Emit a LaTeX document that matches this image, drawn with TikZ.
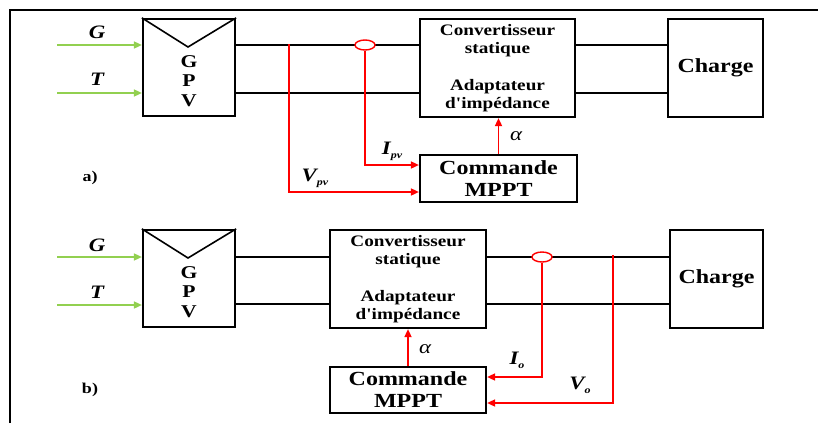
\documentclass[tikz,border=0pt]{standalone}
\usepackage{fontspec}
\setmainfont{Liberation Serif}
\newfontfamily\wf[FakeStretch=1.2]{Liberation Serif}
\usetikzlibrary{arrows.meta,shapes.geometric}
\definecolor{pvgreen}{RGB}{146,208,80}
\definecolor{sred}{RGB}{255,0,0}
\tikzset{
  blk/.style={draw, line width=2.2pt, inner sep=0pt, fill=white, align=center},
  wire/.style={line width=1.2pt},
  sig/.style={draw=sred, line width=1.6pt},
  sigarr/.style={sig, -{Triangle[length=8pt,width=7pt]}},
  gin/.style={draw=pvgreen, line width=1.6pt, -{Triangle[length=8pt,width=7pt]}},
  sensor/.style={ellipse, draw=sred, fill=white, line width=1.4pt, minimum width=20pt, minimum height=10pt, inner sep=0pt},
  gpvtxt/.style={font=\wf\bfseries\fontsize{18}{19.5}\selectfont, align=center},
  convtxt/.style={font=\wf\bfseries\fontsize{16}{17.5}\selectfont},
  bigtxt/.style={font=\wf\bfseries\fontsize{20}{22}\selectfont},
  lbl/.style={font=\wf\bfseries\itshape\fontsize{19}{19}\selectfont, inner sep=0pt},
  alph/.style={font=\wf\itshape\fontsize{19}{19}\selectfont, inner sep=0pt},
  parttxt/.style={font=\wf\bfseries\fontsize{15}{15}\selectfont, inner sep=0pt},
}
\newcommand{\sublbl}[2]{#1\raisebox{-4pt}{\fontsize{10}{10}\selectfont #2}}
\begin{document}
\begin{tikzpicture}[x=1pt,y=-1pt]
\useasboundingbox (0,0) rectangle (818,423);
% frame
\draw[line width=2pt] (10,423) -- (10,10) -- (818,10);

% ================= a) =================
\coordinate (rA1) at (0,45);
\coordinate (rA2) at (0,93);
\node[blk, minimum width=92pt, minimum height=97pt] (gpvA) at (189,67.5) {};
\coordinate (vtxA) at (188,47);
\draw[line width=1.6pt] (gpvA.north west) -- (vtxA) -- (gpvA.north east);
\node[gpvtxt] (gpvtA) at (189,81) {G\\P\\V};
\node[blk, minimum width=155pt, minimum height=98pt, convtxt] (convA) at (497.5,68) {Convertisseur\\statique\\[20pt]Adaptateur\\d'impédance};
\node[blk, minimum width=95pt, minimum height=98pt, bigtxt] (chA) at (715.5,68) {Charge};
\node[blk, minimum width=157pt, minimum height=47pt, bigtxt] (mpA) at (498.5,178.5) {Commande\\MPPT};

\draw[wire] (gpvA.east |- rA1) -- (convA.west |- rA1);
\draw[wire] (gpvA.east |- rA2) -- (convA.west |- rA2);
\draw[wire] (convA.east |- rA1) -- (chA.west |- rA1);
\draw[wire] (convA.east |- rA2) -- (chA.west |- rA2);

\coordinate (gA1) at (57,45);
\coordinate (gA2) at (57,93);
\draw[gin] (gA1) -- (gpvA.west |- gA1);
\draw[gin] (gA2) -- (gpvA.west |- gA2);
\node[lbl] (lGA) at (97,32) {G};
\node[lbl] (lTA) at (97,79) {T};

\coordinate (vA) at (289,44);
\coordinate (vArow) at (0,192);
\draw[sigarr] (vA) -- (vA |- vArow) -- (mpA.west |- vArow);
\node[sensor] (iA) at (365,45) {};
\coordinate (iArow) at (0,165);
\draw[sigarr] (iA.south) -- (iA.south |- iArow) -- (mpA.west |- iArow);
\draw[sigarr] (mpA.north) -- (convA.south -| mpA.north);

\node[alph] (alA) at (516,136) {α};
\node[lbl] (ipv) at (392,151) {\sublbl{I}{pv}};
\node[lbl] (vpv) at (315,178) {\sublbl{V}{pv}};
\node[parttxt] (pa) at (90,178) {a)};

% ================= b) =================
\coordinate (rB1) at (0,257);
\coordinate (rB2) at (0,304);
\node[blk, minimum width=92pt, minimum height=97pt] (gpvB) at (189,278.5) {};
\coordinate (vtxB) at (188,258);
\draw[line width=1.6pt] (gpvB.north west) -- (vtxB) -- (gpvB.north east);
\node[gpvtxt] (gpvtB) at (189,292) {G\\P\\V};
\node[blk, minimum width=156pt, minimum height=98pt, convtxt] (convB) at (408,279) {Convertisseur\\statique\\[20pt]Adaptateur\\d'impédance};
\node[blk, minimum width=93pt, minimum height=98pt, bigtxt] (chB) at (716.5,279) {Charge};
\node[blk, minimum width=156pt, minimum height=46pt, bigtxt] (mpB) at (408,390) {Commande\\MPPT};

\draw[wire] (gpvB.east |- rB1) -- (convB.west |- rB1);
\draw[wire] (gpvB.east |- rB2) -- (convB.west |- rB2);
\draw[wire] (convB.east |- rB1) -- (chB.west |- rB1);
\draw[wire] (convB.east |- rB2) -- (chB.west |- rB2);

\coordinate (gB1) at (57,257);
\coordinate (gB2) at (57,305);
\draw[gin] (gB1) -- (gpvB.west |- gB1);
\draw[gin] (gB2) -- (gpvB.west |- gB2);
\node[lbl] (lGB) at (97,245) {G};
\node[lbl] (lTB) at (97,292) {T};

\node[sensor] (iB) at (542,257) {};
\coordinate (iBrow) at (0,377);
\draw[sigarr] (iB.south) -- (iB.south |- iBrow) -- (mpB.east |- iBrow);
\coordinate (vB) at (613,255);
\coordinate (vBrow) at (0,403);
\draw[sigarr] (vB) -- (vB |- vBrow) -- (mpB.east |- vBrow);
\draw[sigarr] (mpB.north) -- (convB.south -| mpB.north);

\node[alph] (alB) at (425,349) {α};
\node[lbl] (io) at (517,360) {\sublbl{I}{o}};
\node[lbl] (vo) at (580,385) {\sublbl{V}{o}};
\node[parttxt] (pb) at (90,390) {b)};
\end{tikzpicture}
\end{document}
